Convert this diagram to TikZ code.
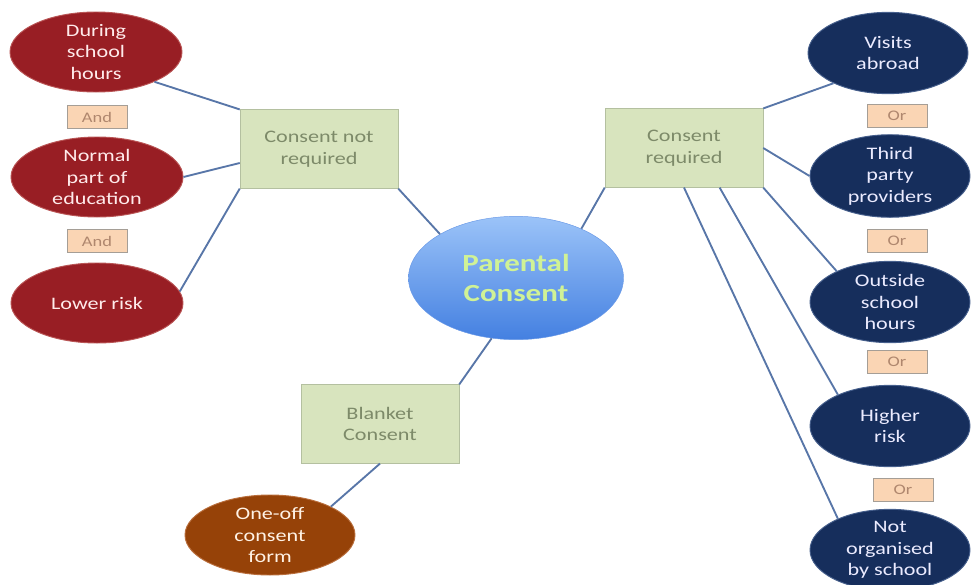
\documentclass[tikz,border=0pt]{standalone}
\usepackage{fontspec}
\setmainfont{Carlito}[FakeStretch=1.26]
\usepackage{tikz}
\usetikzlibrary{positioning,calc,shapes.geometric}
\definecolor{CondRed}{RGB}{152,30,36}
\definecolor{CondRedEdge}{RGB}{185,85,85}
\definecolor{CondNavy}{RGB}{22,46,92}
\definecolor{CondNavyEdge}{RGB}{70,95,140}
\definecolor{FormBrown}{RGB}{150,66,8}
\definecolor{FormBrownEdge}{RGB}{185,110,60}
\definecolor{BoxGreen}{RGB}{216,228,190}
\definecolor{BoxGreenEdge}{RGB}{180,192,160}
\definecolor{BoxText}{RGB}{125,138,105}
\definecolor{JoinPeach}{RGB}{250,213,180}
\definecolor{JoinEdge}{RGB}{165,158,150}
\definecolor{JoinText}{RGB}{175,135,110}
\definecolor{LinkBlue}{RGB}{88,118,168}
\definecolor{HubTop}{RGB}{155,195,248}
\definecolor{HubBottom}{RGB}{68,128,225}
\definecolor{HubText}{RGB}{208,242,150}
\tikzset{
  cond/.style={ellipse,inner sep=0pt,align=center,line width=0.8pt,
    font=\fontsize{15}{18.5}\selectfont},
  redcond/.style={cond,fill=CondRed,draw=CondRedEdge,text=white!92!red,
    minimum width=5.16cm,minimum height=2.4cm},
  navycond/.style={cond,fill=CondNavy,draw=CondNavyEdge,text=white!92!blue,
    minimum width=4.8cm,minimum height=2.44cm},
  kind/.style={rectangle,fill=BoxGreen,draw=BoxGreenEdge,text=BoxText,
    minimum width=4.74cm,minimum height=2.36cm,align=center,
    font=\fontsize{15}{18.5}\selectfont},
  joinbox/.style={rectangle,fill=JoinPeach,draw=JoinEdge,text=JoinText,
    minimum width=1.8cm,minimum height=0.7cm,inner sep=0pt,
    font=\fontsize{12.5}{14}\selectfont},
  link/.style={draw=LinkBlue,line width=1.6pt},
}
\begin{document}
\begin{tikzpicture}[x=0.03cm,y=-0.03cm]
\useasboundingbox (0,0) rectangle (971,585);
\begin{scope}
\clip (0,0) rectangle (971,585);
\node[ellipse,inner sep=0pt,minimum width=6.45cm,minimum height=3.7cm,
  top color=HubTop,bottom color=HubBottom,draw=HubBottom!80!white,
  text=HubText,align=center,font=\fontsize{21}{26}\selectfont\bfseries]
  (parental) at (516,278) {Parental\\Consent};
\node[kind] (cnr) at (319,149) {Consent not\\required};
\node[kind] (cr) at (684,148) {Consent\\required};
\node[kind] (blanket) at (380,424) {Blanket\\Consent};
\node[redcond] (during) at (96,52) {During\\school\\hours};
\node[redcond] (normal) at (97,177) {Normal\\part of\\education};
\node[redcond] (lower) at (97,303) {Lower risk};
\node[joinbox] (and1) at (97,117) {And};
\node[joinbox] (and2) at (97,241) {And};
\node[navycond] (visits) at (888,53) {Visits\\abroad};
\node[navycond] (third) at (890,176) {Third\\party\\providers};
\node[navycond] (outside) at (890,302) {Outside\\school\\hours};
\node[navycond] (higher) at (890,426) {Higher\\risk};
\node[navycond] (notorg) at (890,550) {Not\\organised\\by school};
\node[joinbox] (or1) at (897,116) {Or};
\node[joinbox] (or2) at (897,241) {Or};
\node[joinbox] (or3) at (897,362) {Or};
\node[joinbox] (or4) at (903,490) {Or};
\node[cond,fill=FormBrown,draw=FormBrownEdge,text=white!90!orange,
  minimum width=5.1cm,minimum height=2.4cm] (oneoff) at (270,535)
  {One-off\\consent\\form};
\draw[link] (during.-27) -- (cnr.north west);
\draw[link] (normal.east) -- (cnr.190);
\draw[link] (lower.8) -- (cnr.south west);
\draw[link] (parental.150) -- (cnr.south east);
\draw[link] (parental.37) -- (cr.south west);
\draw[link] (parental.-112) -- (blanket.north east);
\draw[link] (blanket.south) -- (oneoff.25);
\draw[link] (cr.north east) -- (visits.209);
\draw[link] (cr.east) -- (third.west);
\draw[link] (cr.south east) -- (outside.150);
\draw[link] (cr.-48) -- (higher.149);
\draw[link] (cr.south) -- (notorg.149);
\end{scope}
\end{tikzpicture}
\end{document}
